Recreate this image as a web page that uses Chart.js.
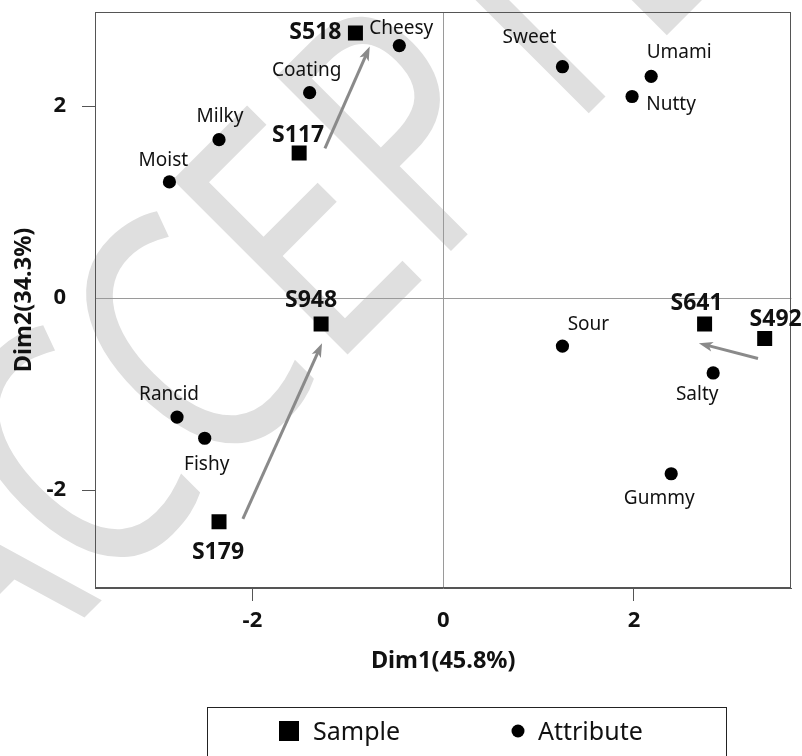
<!DOCTYPE html>
<html>
<head>
<meta charset="utf-8">
<script src="https://cdn.jsdelivr.net/npm/chart.js@4.4.1/dist/chart.umd.min.js"></script>
<style>
  html, body { margin: 0; padding: 0; background: #fff; }
</style>
</head>
<body>
<canvas id="biplot" width="802" height="756"></canvas>
<script>
// values (Dim1 / Dim2 coordinates)
const SAMPLE_NAMES = ['S518', 'S117', 'S948', 'S179', 'S641', 'S492'];
const SAMPLE_DIM1 = [-0.92, -1.51, -1.28, -2.35, 2.74, 3.37];
const SAMPLE_DIM2 = [2.76, 1.51, -0.27, -2.33, -0.27, -0.42];

const ATTR_NAMES = ['Cheesy', 'Coating', 'Milky', 'Moist', 'Sweet', 'Umami', 'Nutty', 'Sour', 'Salty', 'Gummy', 'Rancid', 'Fishy'];
const ATTR_DIM1 = [-0.46, -1.40, -2.35, -2.87, 1.25, 2.18, 1.98, 1.25, 2.83, 2.39, -2.79, -2.50];
const ATTR_DIM2 = [2.63, 2.14, 1.65, 1.21, 2.41, 2.31, 2.10, -0.50, -0.78, -1.83, -1.24, -1.46];

// arrows: start -> end, in data units
const ARROW_FROM_DIM1 = [-2.10, -1.24, 3.30];
const ARROW_FROM_DIM2 = [-2.30, 1.56, -0.63];
const ARROW_TO_DIM1 = [-1.27, -0.77, 2.68];
const ARROW_TO_DIM2 = [-0.47, 2.62, -0.47];

const X_TICKS = [-2, 0, 2];
const Y_TICKS = [-2, 0, 2];
const X_RANGE = [-3.65, 3.65];
const Y_RANGE = [-3.02, 2.98];

const FONT = 'Noto Sans';

// label placement relative to each mark (pixels, visual centre of the caps)
const SAMPLE_LABEL_OFFSET = [[-40, -2], [-1, -19], [-10, -25], [-1, 29], [-8, -22], [11, -21]];
const ATTR_LABEL_OFFSET = [[2, -18], [-3, -23], [1, -24], [-6, -23], [-33, -31], [28, -25],
  [39, 7], [26, -23], [-16, 20], [-12, 23], [-8, -24], [2, 25]];

function toPoints(xs, ys) {
  return xs.map((x, i) => ({ x, y: ys[i] }));
}

function drawLabel(ctx, text, x, y, size, weight) {
  ctx.font = `${weight} ${size}px "${FONT}"`;
  ctx.textAlign = 'center';
  ctx.textBaseline = 'alphabetic';
  ctx.fillText(text, x, y + size * 0.714 / 2);
}

function drawArrow(ctx, x0, y0, x1, y1) {
  const a = Math.atan2(y1 - y0, x1 - x0);
  const len = 14, half = 5;
  const c = Math.cos(a), s = Math.sin(a);
  ctx.beginPath();
  ctx.moveTo(x0, y0);
  ctx.lineTo(x1 - len * 0.7 * c, y1 - len * 0.7 * s);
  ctx.stroke();
  ctx.beginPath();
  ctx.moveTo(x1, y1);
  ctx.lineTo(x1 - len * c + half * s, y1 - len * s - half * c);
  ctx.lineTo(x1 - len * 0.75 * c, y1 - len * 0.75 * s);
  ctx.lineTo(x1 - len * c - half * s, y1 - len * s + half * c);
  ctx.closePath();
  ctx.fill();
}

const biplotDecor = {
  id: 'biplotDecor',
  beforeDraw(chart) {
    const ctx = chart.ctx;
    ctx.save();
    ctx.fillStyle = '#fff';
    ctx.fillRect(0, 0, chart.width, chart.height);
    // light watermark behind everything
    ctx.fillStyle = '#dfdfdf';
    ctx.font = `346px "${FONT}"`;
    ctx.textBaseline = 'alphabetic';
    ctx.textAlign = 'left';
    ctx.translate(347, 355);
    ctx.rotate(-Math.PI / 4);
    ctx.scale(0.76, 1);
    const lead = ctx.measureText('ACC').width;
    const lsb = -ctx.measureText('E').actualBoundingBoxLeft;
    ctx.fillText('ACCEPTED', -(lead + lsb), 0);
    ctx.restore();
  },
  beforeDatasetsDraw(chart) {
    const { ctx, chartArea: a, scales: { x, y } } = chart;
    ctx.save();
    ctx.strokeStyle = '#555';
    ctx.lineWidth = 1;
    ctx.strokeRect(Math.round(a.left) + 0.5, Math.round(a.top) + 0.5,
      Math.round(a.right - a.left) - 1, Math.round(a.bottom - a.top) - 1);

    ctx.strokeStyle = '#8a8a8a';
    ctx.fillStyle = '#8a8a8a';
    ctx.lineWidth = 3;
    ARROW_FROM_DIM1.forEach((v, i) => {
      drawArrow(ctx,
        x.getPixelForValue(v), y.getPixelForValue(ARROW_FROM_DIM2[i]),
        x.getPixelForValue(ARROW_TO_DIM1[i]), y.getPixelForValue(ARROW_TO_DIM2[i]));
    });
    ctx.restore();
  },
  afterDatasetsDraw(chart) {
    const ctx = chart.ctx;
    ctx.save();
    ctx.fillStyle = '#111';
    chart.getDatasetMeta(0).data.forEach((pt, i) => {
      const [dx, dy] = SAMPLE_LABEL_OFFSET[i];
      drawLabel(ctx, SAMPLE_NAMES[i], pt.x + dx, pt.y + dy, 23, 'bold');
    });
    chart.getDatasetMeta(1).data.forEach((pt, i) => {
      const [dx, dy] = ATTR_LABEL_OFFSET[i];
      drawLabel(ctx, ATTR_NAMES[i], pt.x + dx, pt.y + dy, 19, 'normal');
    });
    ctx.restore();
  },
  afterDraw(chart) {
    // boxed legend under the plot
    const ctx = chart.ctx;
    const ds = chart.data.datasets;
    ctx.save();
    ctx.strokeStyle = '#222';
    ctx.lineWidth = 1;
    ctx.strokeRect(207.5, 707.5, 519, 60);
    ctx.fillStyle = '#000';
    ctx.fillRect(279, 721, 20, 20);
    ctx.beginPath();
    ctx.arc(518, 731, 6.5, 0, Math.PI * 2);
    ctx.fill();
    ctx.font = `25px "${FONT}"`;
    ctx.textAlign = 'left';
    ctx.textBaseline = 'alphabetic';
    ctx.fillStyle = '#111';
    ctx.fillText(ds[0].label, 313, 731 + 25 * 0.714 / 2);
    ctx.fillText(ds[1].label, 538, 731 + 25 * 0.714 / 2);
    ctx.restore();
  }
};

const zeroOnly = c => (c.tick && c.tick.value === 0 ? '#9a9a9a' : 'rgba(0,0,0,0)');
const tickMark = c => (c.tick && c.tick.value === 0 ? 'rgba(0,0,0,0)' : '#555');

function noEdgePadding(s) {
  s.paddingTop = 0;
  s.paddingBottom = 0;
  s.paddingLeft = 0;
  s.paddingRight = 0;
}

new Chart(document.getElementById('biplot'), {
  type: 'scatter',
  data: {
    datasets: [
      {
        label: 'Sample',
        data: toPoints(SAMPLE_DIM1, SAMPLE_DIM2),
        pointStyle: 'rect',
        pointRadius: 10.6,
        backgroundColor: '#000',
        borderColor: '#000',
        borderWidth: 0
      },
      {
        label: 'Attribute',
        data: toPoints(ATTR_DIM1, ATTR_DIM2),
        pointStyle: 'circle',
        pointRadius: 6.6,
        backgroundColor: '#000',
        borderColor: '#000',
        borderWidth: 0
      }
    ]
  },
  options: {
    responsive: false,
    animation: false,
    layout: { padding: { top: 12, right: 10, left: 0, bottom: 0 } },
    plugins: { legend: { display: false }, tooltip: { enabled: false } },
    scales: {
      x: {
        type: 'linear',
        min: X_RANGE[0],
        max: X_RANGE[1],
        afterBuildTicks: s => { s.ticks = X_TICKS.map(v => ({ value: v })); },
        afterFit: s => { s.height = 168; noEdgePadding(s); },
        grid: { color: zeroOnly, tickColor: tickMark, tickLength: 13, lineWidth: 1 },
        border: { color: '#555', width: 1 },
        ticks: {
          color: '#111',
          padding: 7,
          maxRotation: 0,
          font: { family: FONT, size: 22, weight: 'bold' }
        },
        title: {
          display: true,
          text: 'Dim1(45.8%)',
          color: '#111',
          font: { family: FONT, size: 23.5, weight: 'bold' },
          padding: { top: 0, bottom: 81 }
        }
      },
      y: {
        type: 'linear',
        min: Y_RANGE[0],
        max: Y_RANGE[1],
        afterBuildTicks: s => { s.ticks = Y_TICKS.map(v => ({ value: v })); },
        afterFit: s => { s.width = 95; noEdgePadding(s); },
        grid: { color: zeroOnly, tickColor: tickMark, tickLength: 13, lineWidth: 1 },
        border: { color: '#555', width: 1 },
        ticks: {
          color: '#111',
          padding: 16,
          font: { family: FONT, size: 22, weight: 'bold' }
        },
        title: {
          display: true,
          text: 'Dim2(34.3%)',
          color: '#111',
          font: { family: FONT, size: 23.5, weight: 'bold' },
          padding: { top: 10, bottom: 0 }
        }
      }
    }
  },
  plugins: [biplotDecor]
});
</script>
</body>
</html>
